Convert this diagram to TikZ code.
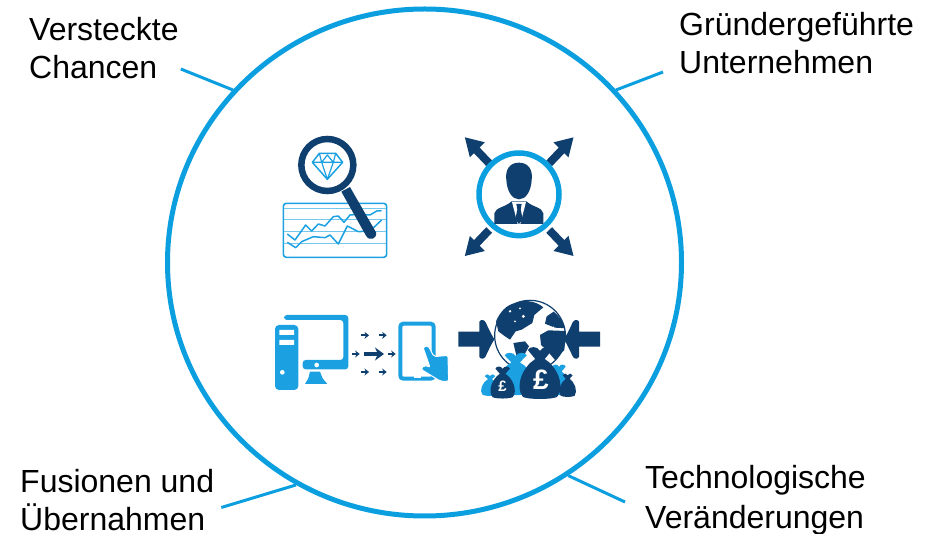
\documentclass[tikz,border=0pt]{standalone}
\usepackage{fontspec}
\setmainfont{Liberation Sans}
\usetikzlibrary{shapes.geometric,arrows.meta}
\definecolor{ringblue}{HTML}{0B9FE0}
\definecolor{navy}{HTML}{0F3F6E}
\definecolor{softblue}{HTML}{1BA1E2}
\tikzset{
	caption/.style={align=left,inner sep=0pt,font=\fontsize{32}{38}\selectfont},
	leader/.style={ringblue,line width=3pt},
	chartline/.style={softblue,line width=1.5pt,line join=round},
	gridline/.style={softblue!60,line width=0.9pt},
	flow/.style={navy,line width=1.8pt,-{Stealth[length=4.5pt,width=7pt]}}
}
% sac : centre, haut, demi-largeur, bas
\newcommand{\moneybag}[4]{
	(#1-0.57*#3,#2+3) .. controls (#1-0.5*#3,#2-0.06*#4+0.06*#2) and (#1-0.1*#3,#2-0.06*#4+0.06*#2) .. (#1,#2+0.04*#4-0.04*#2)
	.. controls (#1+0.1*#3,#2-0.06*#4+0.06*#2) and (#1+0.5*#3,#2-0.06*#4+0.06*#2) .. (#1+0.57*#3,#2+3)
	-- (#1+0.22*#3,0.8*#2+0.2*#4)
	.. controls (#1+0.8*#3,0.65*#2+0.35*#4) and (#1+1.2*#3,0.25*#2+0.75*#4) .. (#1+0.8*#3,0.04*#2+0.96*#4)
	.. controls (#1+0.5*#3,#4+2) and (#1-0.5*#3,#4+2) .. (#1-0.8*#3,0.04*#2+0.96*#4)
	.. controls (#1-1.2*#3,0.25*#2+0.75*#4) and (#1-0.8*#3,0.65*#2+0.35*#4) .. (#1-0.22*#3,0.8*#2+0.2*#4) -- cycle
}
\begin{document}
\begin{tikzpicture}[x=1pt,y=-1pt]
\useasboundingbox (0,0) rectangle (930,534);

%Cercle
\node[ellipse,draw=ringblue,line width=5pt,minimum width=514pt,minimum height=507pt,inner sep=0pt] (ring) at (424.5,262.5) {};

%Textes
\node[caption,anchor=west] (chances) at (29,48) {Versteckte\\Chancen};
\node[caption,anchor=west] (founder) at (679,43) {Gründergeführte\\Unternehmen};
\node[caption,anchor=west] (mergers) at (20,500.5) {Fusionen und\\Übernahmen};
\node[caption,anchor=west] (tech) at (645,500) {Technologische\\[1.5pt]Veränderungen};

%Traits
\draw[leader] ([xshift=2pt,yshift=-21pt]chances.east) -- (ring.138.7);
\draw[leader] ([xshift=-16pt,yshift=-29pt]founder.west) -- (ring.42.1);
\draw[leader] ([xshift=7pt,yshift=-7pt]mergers.east) -- (ring.240.3);
\draw[leader] ([xshift=-20pt,yshift=-2pt]tech.west) -- (ring.304.1);

%Loupe et courbes
\begin{scope}[shift={(270,125)},scale=1/3]
	\draw[softblue,line width=1.6pt,rounded corners=3pt] (40,235) rectangle (350,397);
	\foreach \ligne in {250,282,320,355} {
		\draw[gridline] (42,\ligne) -- (348,\ligne);
	}
	\draw[chartline] (52,327) -- (75,345) -- (107,300) -- (125,318) -- (145,297) -- (165,303) -- (190,275) -- (205,273) -- (222,292) -- (240,270) -- (265,268) -- (300,270) -- (320,258) -- (335,257);
	\draw[chartline] (52,352) -- (77,368) -- (95,350) -- (130,335) -- (165,338) -- (180,330) -- (205,357) -- (232,303) -- (265,320) -- (300,318) -- (335,285);
	\fill[navy] (214,200) -- (240,186) -- (318,322) .. controls (322,342) and (298,350) .. (288,332) -- cycle;
	\draw[navy,line width=6.5pt,fill=white] (172,120) circle (78);
	%diamant
	\draw[softblue,line width=1.5pt,line join=round] (127,112) -- (148,85) -- (197,85) -- (218,112) -- (172,163) -- cycle;
	\draw[softblue,line width=1.2pt,line join=round] (127,112) -- (218,112) (148,85) -- (155,112) -- (172,163) -- (190,112) -- (197,85) (155,112) -- (172,90) -- (190,112);
\end{scope}

%Dirigeant
\begin{scope}[shift={(455,130)},scale=1/3]
	\foreach \sx/\sy in {-1/-1,1/-1,-1/1,1/1} {
		\begin{scope}[shift={(192.5,200)},xscale=\sx,yscale=\sy]
			\draw[navy,line width=8pt] (90,100) -- (132,144);
			\fill[navy] (163,178) -- (103,163) -- (148,118) -- cycle;
		\end{scope}
	}
	\draw[ringblue,line width=5.5pt,fill=white] (192,193) ellipse (120 and 124);
	\fill[navy] (192,98) .. controls (222,98) and (234,122) .. (230,150) .. controls (228,185) and (212,208) .. (192,208) .. controls (172,208) and (156,185) .. (154,150) .. controls (150,122) and (162,98) .. (192,98) -- cycle;
	\fill[navy] (118,282) -- (118,250) .. controls (122,232) and (150,232) .. (170,214) -- (214,214) .. controls (234,232) and (262,232) .. (265,250) -- (265,282) -- cycle;
	\fill[white] (171,216) -- (213,216) -- (196,282) -- (188,282) -- cycle;
	\fill[navy] (184,222) -- (200,222) -- (197,238) -- (203,268) -- (192,282) -- (181,268) -- (187,238) -- cycle;
\end{scope}

%Ordinateur et tablette
\begin{scope}[shift={(270,310)},scale=1/3]
	\fill[softblue,rounded corners=3pt] (42,15) -- (235,15) -- (235,178) -- (98,178) -- (98,150) -- (220,150) -- (220,30) -- (42,30) -- cycle;
	\fill[softblue] (120,185) -- (150,185) -- (158,205) -- (172,222) -- (105,222) -- (115,205) -- cycle;
	\fill[white] (140,165) circle (7);
	\fill[softblue,rounded corners=4pt] (15,45) rectangle (85,240);
	\fill[white] (28,60) rectangle (72,75) (28,90) rectangle (72,105) (37,187) circle (7);
	\draw[softblue,line width=4pt,rounded corners=3pt,fill=white] (391,41) rectangle (491,206);
	\fill[white] (433,198) rectangle (452,204);
	\fill[softblue,draw=white,line width=1pt,rounded corners=2pt] (459,112) -- (474,106) -- (492,140) -- (534,136) -- (536,214) -- (512,214) -- (453,178) -- (463,165) -- (480,172) -- cycle;
	\foreach \px/\py in {285/76,338/76,285/186,338/186,257/132,365/132} {
		\draw[flow] (\px-12,\py) -- (\px+12,\py);
	}
	\draw[navy,line width=3.2pt,-{Stealth[length=9pt,width=13pt]}] (283,132) -- (342,132);
\end{scope}

%Globe et sacs
\begin{scope}[shift={(455,295)},scale=1/3]
	\draw[navy,line width=1.2pt,fill=white] (225,122) circle (106);
	%continents
	\fill[navy] (123,79) .. controls (135,50) and (155,30) .. (180,24) .. controls (205,14) and (240,16) .. (265,37) -- (238,60) -- (232,84) -- (200,104) -- (182,109) -- (165,134) -- (150,124) -- (130,109) -- cycle;
	\fill[navy] (175,144) -- (210,139) -- (222,154) -- (205,185) -- (185,185) -- cycle;
	\fill[navy] (275,64) -- (296,50) .. controls (310,60) and (325,80) .. (331,100) -- (300,98) -- (270,86) -- cycle;
	\fill[navy] (255,120) -- (280,106) -- (333,108) -- (328,165) -- (300,195) -- (275,165) -- (258,150) -- cycle;
	\fill[white] (165,49) circle (4) (205,64) circle (5) (180,79) circle (3) (195,40) circle (3) (295,97) circle (2.5) (315,101) circle (2.5);
	%fleches
	\foreach \sx/\ox in {1/10,-1/435} {
		\begin{scope}[shift={(\ox,0)},xscale=\sx]
			\fill[navy] (0,110) -- (63,110) -- (63,80) .. controls (68,72) and (78,74) .. (82,82) .. controls (90,100) and (100,120) .. (108,133) .. controls (100,146) and (90,166) .. (82,184) .. controls (78,192) and (68,194) .. (63,186) -- (63,155) -- (0,155) -- cycle;
		\end{scope}
	}
	%sacs
	\fill[softblue] \moneybag{182}{178}{58}{300};
	\fill[softblue] \moneybag{312}{212}{35}{300};
	\fill[softblue] \moneybag{105}{240}{28}{302};
	\fill[navy] \moneybag{338}{238}{26}{305};
	\fill[navy] \moneybag{143}{218}{38}{310};
	\fill[navy] \moneybag{255}{162}{64}{312};
	\node[white,font=\bfseries\fontsize{28}{28}\selectfont,inner sep=0pt] (bigpound) at (258,255) {£};
	\node[white,font=\bfseries\fontsize{15}{15}\selectfont,inner sep=0pt] (smallpound) at (143,275) {£};
\end{scope}
\end{tikzpicture}
\end{document}
